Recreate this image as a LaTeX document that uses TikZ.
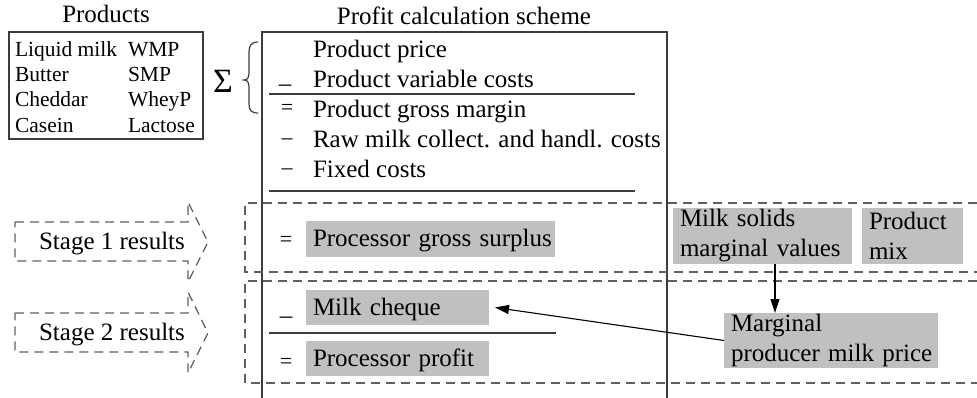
\documentclass[tikz,border=0pt]{standalone}
\usepackage{fontspec}
\setmainfont{Liberation Serif}
\usetikzlibrary{arrows.meta}
\definecolor{boxgray}{RGB}{192,192,192}
\definecolor{linegray}{RGB}{60,60,60}
\definecolor{dashgray}{RGB}{95,95,95}
\begin{document}
\begin{tikzpicture}[x=1pt,y=-1pt,
  every node/.style={inner sep=0pt, outer sep=0pt},
  txt/.style={font=\fontsize{25}{30}\selectfont, anchor=base west},
  ptxt/.style={font=\fontsize{21.5}{25}\selectfont, anchor=base west},
  dashsign/.style={font=\fontsize{22}{24}\selectfont, anchor=base},
  lowsign/.style={font=\fontsize{25}{30}\selectfont, anchor=base},
  eqsign/.style={font=\fontsize{22}{24}\selectfont, anchor=base},
  graybox/.style={fill=boxgray, font=\fontsize{25}{30}\selectfont, inner xsep=7pt, inner ysep=0pt, anchor=north west, align=left},
  oneline/.style={text height=19pt, text depth=4pt},
  frameline/.style={draw=linegray, line width=1.4pt},
  dashline/.style={draw=dashgray, line width=1.3pt, dash pattern=on 9pt off 6pt},
  arr/.style={draw=black, line width=1.1pt, -{Triangle[length=14pt,width=9pt]}}
]
\useasboundingbox (0,0) rectangle (977,398);

% titles
\node[txt, anchor=base] (ptitle) at (106,23) {Products};
\node[txt, anchor=base] (ctitle) at (464,25) {Profit calculation scheme};

% products box
\node[frameline, minimum width=194pt, minimum height=107pt, anchor=north west] (pbox) at (9,32) {};
\node[ptxt] (p1) at (15,57) {Liquid milk};
\node[ptxt] (p2) at (15,82) {Butter};
\node[ptxt] (p3) at (15,107) {Cheddar};
\node[ptxt] (p4) at (15,133) {Casein};
\node[ptxt] (p5) at (128,57) {WMP};
\node[ptxt] (p6) at (128,82) {SMP};
\node[ptxt] (p7) at (128,107) {WheyP};
\node[ptxt] (p8) at (128,133) {Lactose};

% sigma and brace
\node[font=\fontsize{34}{34}\selectfont] (sigma) at (223,81) {Σ};
\draw[frameline, line width=1.2pt] (258,42) .. controls (251,42) and (249,46) .. (249,52) -- (249,72)
  .. controls (249,77) and (248,80) .. (244,80) .. controls (248,80) and (249,83) .. (249,88)
  -- (249,104) .. controls (249,110) and (251,113) .. (258,113);

% main frame
\draw[frameline] (262,398) -- (262,32) -- (667,32) -- (667,398);

% rows
\node[txt] (pp) at (313,58) {Product price};
\node[lowsign] (s2) at (285,91.5) {–};
\node[txt] (pvc) at (313,88) {Product variable costs};
\draw[frameline] (269,94) -- (635,94);
\node[eqsign] (s3) at (287,115) {=};
\node[txt] (pgm) at (313,118) {Product gross margin};
\node[dashsign] (s4) at (287,145) {–};
\node[txt] (rm) at (313,148) {Raw milk collect. and handl. costs};
\node[dashsign] (s5) at (287,175) {–};
\node[txt] (fc) at (313,178) {Fixed costs};
\draw[frameline] (269,191) -- (635,191);

% stage regions
\draw[dashline] (977,203) -- (245,203) -- (245,272) -- (977,272);
\draw[dashline] (977,281) -- (245,281) -- (245,383) -- (977,383);

% stage arrows
\draw[dashline] (15,222) -- (188,222) -- (188,202) -- (208,242) -- (188,282) -- (188,261) -- (15,261) -- cycle;
\node[txt, anchor=base] (st1) at (112,249) {Stage 1 results};
\draw[dashline] (15,313) -- (188,313) -- (188,292) -- (208,333) -- (188,373) -- (188,352) -- (15,352) -- cycle;
\node[txt, anchor=base] (st2) at (112,340) {Stage 2 results};

% stage 1 content
\node[eqsign] (s6) at (286,247) {=};
\node[graybox, oneline, text width=235pt, minimum height=36pt] (pgs) at (306,221) {\mbox{Processor gross surplus}};
\node[graybox, text width=165pt, minimum height=56pt] (ms) at (673,208) {\mbox{Milk solids}\\\mbox{marginal values}};
\node[graybox, text width=87pt, minimum height=56pt] (pm) at (862,208) {Product\\mix};

% stage 2 content
\node[lowsign] (s7) at (286,323.5) {–};
\node[graybox, oneline, text width=169pt, minimum height=35pt] (mc) at (306,290) {\mbox{Milk cheque}};
\draw[frameline] (269,333) -- (556,333);
\node[eqsign] (s8) at (286,368) {=};
\node[graybox, oneline, text width=169pt, minimum height=35pt] (pprof) at (306,341) {\mbox{Processor profit}};
\node[graybox, text width=200pt, minimum height=55pt] (mpp) at (724,313) {Marginal\\\mbox{producer milk price}};

% connectors
\draw[arr] ([xshift=12.5pt]ms.south) -- ([xshift=12.5pt]ms.south |- mpp.north);
\draw[arr] (mpp.west) -- ([xshift=6pt]mc.east);
\end{tikzpicture}
\end{document}
